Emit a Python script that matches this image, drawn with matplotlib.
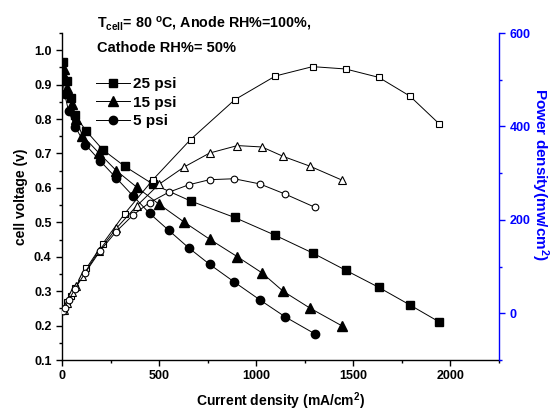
import numpy as np
import matplotlib
matplotlib.use("Agg")
import matplotlib.pyplot as plt
from matplotlib.ticker import MultipleLocator

plt.rcParams['font.family'] = ['Liberation Sans', 'DejaVu Sans']
plt.rcParams['font.weight'] = 'bold'
plt.rcParams['mathtext.fontset'] = 'custom'
plt.rcParams['mathtext.rm'] = 'Liberation Sans:bold'
plt.rcParams['mathtext.it'] = 'Liberation Sans:bold'
plt.rcParams['mathtext.bf'] = 'Liberation Sans:bold'
plt.rcParams['mathtext.default'] = 'rm'

# data
cur_25 = [4, 27, 44, 68, 125, 210, 322, 468, 662, 889, 1099, 1290, 1460, 1631, 1791, 1941]
v_25 = [0.967, 0.911, 0.862, 0.811, 0.765, 0.711, 0.663, 0.611, 0.562, 0.514,
        0.462, 0.411, 0.361, 0.311, 0.260, 0.211]
p_25 = [4, 25, 38, 55, 96, 149, 213, 286, 372, 457, 508, 528, 523, 505, 465, 406]

cur_15 = [8, 25, 53, 72, 105, 189, 280, 385, 499, 628, 760, 903, 1030, 1138, 1276, 1442]
v_15 = [0.944, 0.891, 0.845, 0.800, 0.752, 0.702, 0.650, 0.602, 0.553, 0.501,
        0.451, 0.400, 0.353, 0.300, 0.251, 0.199]
p_15 = [8, 22, 45, 58, 79, 133, 182, 230, 276, 313, 343, 359, 356, 336, 315, 285]

cur_5 = [4, 13, 34, 68, 120, 197, 279, 365, 451, 549, 652, 760, 886, 1018, 1150, 1302]
v_5 = [0.920, 0.874, 0.823, 0.777, 0.726, 0.678, 0.629, 0.577, 0.526, 0.477,
       0.426, 0.378, 0.327, 0.275, 0.225, 0.176]
p_5 = [4, 11, 28, 53, 87, 134, 175, 210, 237, 259, 275, 286, 288, 277, 255, 227]

labels = ['25 psi', '15 psi', '5 psi']
markers = ['s', '^', 'o']
fill_sizes = [5.5, 6.5, 6.0]
open_sizes = [4.5, 5.5, 4.8]

fig = plt.figure(figsize=(5.55, 4.11), dpi=100)
ax = fig.add_axes([62/555, 1-360/411, (499-62)/555, (360-33)/411])
ax2 = ax.twinx()

handles = []
for cur, v, p, lab, m, fs, os_ in zip([cur_25, cur_15, cur_5], [v_25, v_15, v_5],
                                      [p_25, p_15, p_5], labels, markers,
                                      fill_sizes, open_sizes):
    h, = ax.plot(cur, v, '-', color='black', lw=0.7, marker=m, ms=fs,
                 mfc='black', mec='black', label=lab)
    handles.append(h)
    ax2.plot(cur, p, '-', color='black', lw=0.7, marker=m, ms=os_,
             mfc='white', mec='black', mew=0.8)

ax.set_xlim(0, 2250)
ax.set_ylim(0.1, 1.05)
ax2.set_ylim(-100, 600)

ax.xaxis.set_major_locator(MultipleLocator(500))
ax.xaxis.set_minor_locator(MultipleLocator(250))
ax.yaxis.set_major_locator(MultipleLocator(0.1))
ax.yaxis.set_minor_locator(MultipleLocator(0.05))
ax2.yaxis.set_major_locator(MultipleLocator(200))
ax2.yaxis.set_minor_locator(MultipleLocator(100))

ax.spines['top'].set_visible(False)
ax2.spines['top'].set_visible(False)
ax.spines['right'].set_visible(False)
ax2.spines['left'].set_visible(False)
ax2.spines['bottom'].set_visible(False)
ax2.spines['right'].set_color('blue')
for s in ['left', 'bottom']:
    ax.spines[s].set_linewidth(1.0)
ax2.spines['right'].set_linewidth(1.0)

ax.tick_params(which='major', direction='out', length=4, width=1, labelsize=9)
ax.tick_params(which='minor', direction='out', length=2.5, width=1)
ax2.tick_params(which='major', direction='out', length=4, width=1, labelsize=9,
                colors='blue')
ax2.tick_params(which='minor', direction='out', length=2.5, width=1, colors='blue')
ax.yaxis.set_major_formatter(matplotlib.ticker.FormatStrFormatter('%.1f'))

ax.set_xlabel('Current density (mA/cm$^2$)', fontsize=10, fontweight='bold', labelpad=6)
ax.set_ylabel('cell voltage (v)', fontsize=10, fontweight='bold', labelpad=4)
fig.text(540/555, 1-175/411, 'Power density(mw/cm$^2$)', color='blue', fontsize=11,
         fontweight='bold', rotation=-90, ha='center', va='center')

fig.text(97/555, 1-24/411, 'T$_{cell}$= 80 $^{o}$C, Anode RH%=100%,', fontsize=10.3,
         fontweight='bold', ha='left', va='center')
fig.text(97/555, 1-48/411, 'Cathode RH%= 50%', fontsize=10.5, fontweight='bold',
         ha='left', va='center')

fig.legend(handles=handles, loc='upper left', bbox_to_anchor=(96/555, 1-77/411),
           frameon=False, fontsize=11, handlelength=2.2, handletextpad=0.2,
           labelspacing=0.3, borderaxespad=0, borderpad=0)

fig.savefig('out.png', dpi=100)
